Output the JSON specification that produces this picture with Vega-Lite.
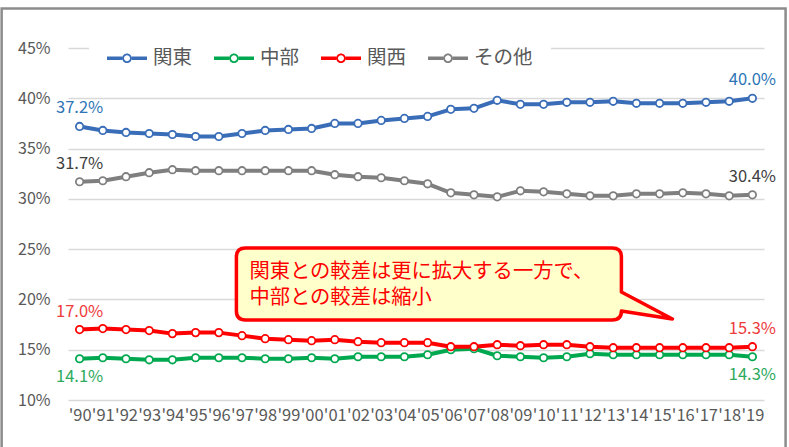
{
  "$schema": "https://vega.github.io/schema/vega-lite/v6.json",
  "width": 696,
  "height": 352,
  "autosize": "none",
  "padding": {"left": 68, "top": 48, "right": 25, "bottom": 47},
  "background": "white",
  "config": {
    "font": "Noto Sans CJK JP",
    "view": {"stroke": null},
    "axisX": {"labelOverlap": false, "labelFlush": false, "labelBound": false},
    "legend": {
      "orient": "none",
      "legendX": 21,
      "legendY": -28,
      "direction": "horizontal",
      "padding": 18,
      "fillColor": "white",
      "labelFontSize": 19.5,
      "labelColor": "#595959",
      "labelFont": "Noto Sans CJK JP",
      "symbolType": "M-1,-0.09H-0.24V0.09H-1Z M0.24,-0.09H1V0.09H0.24Z M0.24,0A0.24,0.24 0 1,1 -0.24,0A0.24,0.24 0 1,1 0.24,0Z M0.15,0A0.15,0.15 0 1,0 -0.15,0A0.15,0.15 0 1,0 0.15,0Z",
      "symbolSize": 1600,
      "symbolStrokeWidth": 0,
      "labelOffset": 6,
      "columnPadding": 21
    }
  },
  "datasets": {
    "shares": [
      {"year": 1990, "region": "関東", "share": 0.372},
      {"year": 1991, "region": "関東", "share": 0.368},
      {"year": 1992, "region": "関東", "share": 0.366},
      {"year": 1993, "region": "関東", "share": 0.365},
      {"year": 1994, "region": "関東", "share": 0.364},
      {"year": 1995, "region": "関東", "share": 0.362},
      {"year": 1996, "region": "関東", "share": 0.362},
      {"year": 1997, "region": "関東", "share": 0.365},
      {"year": 1998, "region": "関東", "share": 0.368},
      {"year": 1999, "region": "関東", "share": 0.369},
      {"year": 2000, "region": "関東", "share": 0.370},
      {"year": 2001, "region": "関東", "share": 0.375},
      {"year": 2002, "region": "関東", "share": 0.375},
      {"year": 2003, "region": "関東", "share": 0.378},
      {"year": 2004, "region": "関東", "share": 0.380},
      {"year": 2005, "region": "関東", "share": 0.382},
      {"year": 2006, "region": "関東", "share": 0.389},
      {"year": 2007, "region": "関東", "share": 0.390},
      {"year": 2008, "region": "関東", "share": 0.398},
      {"year": 2009, "region": "関東", "share": 0.394},
      {"year": 2010, "region": "関東", "share": 0.394},
      {"year": 2011, "region": "関東", "share": 0.396},
      {"year": 2012, "region": "関東", "share": 0.396},
      {"year": 2013, "region": "関東", "share": 0.397},
      {"year": 2014, "region": "関東", "share": 0.395},
      {"year": 2015, "region": "関東", "share": 0.395},
      {"year": 2016, "region": "関東", "share": 0.395},
      {"year": 2017, "region": "関東", "share": 0.396},
      {"year": 2018, "region": "関東", "share": 0.397},
      {"year": 2019, "region": "関東", "share": 0.400},
      {"year": 1990, "region": "中部", "share": 0.141},
      {"year": 1991, "region": "中部", "share": 0.142},
      {"year": 1992, "region": "中部", "share": 0.141},
      {"year": 1993, "region": "中部", "share": 0.140},
      {"year": 1994, "region": "中部", "share": 0.140},
      {"year": 1995, "region": "中部", "share": 0.142},
      {"year": 1996, "region": "中部", "share": 0.142},
      {"year": 1997, "region": "中部", "share": 0.142},
      {"year": 1998, "region": "中部", "share": 0.141},
      {"year": 1999, "region": "中部", "share": 0.141},
      {"year": 2000, "region": "中部", "share": 0.142},
      {"year": 2001, "region": "中部", "share": 0.141},
      {"year": 2002, "region": "中部", "share": 0.143},
      {"year": 2003, "region": "中部", "share": 0.143},
      {"year": 2004, "region": "中部", "share": 0.143},
      {"year": 2005, "region": "中部", "share": 0.145},
      {"year": 2006, "region": "中部", "share": 0.150},
      {"year": 2007, "region": "中部", "share": 0.151},
      {"year": 2008, "region": "中部", "share": 0.144},
      {"year": 2009, "region": "中部", "share": 0.143},
      {"year": 2010, "region": "中部", "share": 0.142},
      {"year": 2011, "region": "中部", "share": 0.143},
      {"year": 2012, "region": "中部", "share": 0.146},
      {"year": 2013, "region": "中部", "share": 0.145},
      {"year": 2014, "region": "中部", "share": 0.145},
      {"year": 2015, "region": "中部", "share": 0.145},
      {"year": 2016, "region": "中部", "share": 0.145},
      {"year": 2017, "region": "中部", "share": 0.145},
      {"year": 2018, "region": "中部", "share": 0.145},
      {"year": 2019, "region": "中部", "share": 0.143},
      {"year": 1990, "region": "関西", "share": 0.170},
      {"year": 1991, "region": "関西", "share": 0.171},
      {"year": 1992, "region": "関西", "share": 0.170},
      {"year": 1993, "region": "関西", "share": 0.169},
      {"year": 1994, "region": "関西", "share": 0.166},
      {"year": 1995, "region": "関西", "share": 0.167},
      {"year": 1996, "region": "関西", "share": 0.167},
      {"year": 1997, "region": "関西", "share": 0.164},
      {"year": 1998, "region": "関西", "share": 0.161},
      {"year": 1999, "region": "関西", "share": 0.160},
      {"year": 2000, "region": "関西", "share": 0.159},
      {"year": 2001, "region": "関西", "share": 0.160},
      {"year": 2002, "region": "関西", "share": 0.158},
      {"year": 2003, "region": "関西", "share": 0.157},
      {"year": 2004, "region": "関西", "share": 0.157},
      {"year": 2005, "region": "関西", "share": 0.157},
      {"year": 2006, "region": "関西", "share": 0.153},
      {"year": 2007, "region": "関西", "share": 0.153},
      {"year": 2008, "region": "関西", "share": 0.155},
      {"year": 2009, "region": "関西", "share": 0.154},
      {"year": 2010, "region": "関西", "share": 0.155},
      {"year": 2011, "region": "関西", "share": 0.155},
      {"year": 2012, "region": "関西", "share": 0.153},
      {"year": 2013, "region": "関西", "share": 0.152},
      {"year": 2014, "region": "関西", "share": 0.152},
      {"year": 2015, "region": "関西", "share": 0.152},
      {"year": 2016, "region": "関西", "share": 0.152},
      {"year": 2017, "region": "関西", "share": 0.152},
      {"year": 2018, "region": "関西", "share": 0.152},
      {"year": 2019, "region": "関西", "share": 0.153},
      {"year": 1990, "region": "その他", "share": 0.317},
      {"year": 1991, "region": "その他", "share": 0.318},
      {"year": 1992, "region": "その他", "share": 0.322},
      {"year": 1993, "region": "その他", "share": 0.326},
      {"year": 1994, "region": "その他", "share": 0.329},
      {"year": 1995, "region": "その他", "share": 0.328},
      {"year": 1996, "region": "その他", "share": 0.328},
      {"year": 1997, "region": "その他", "share": 0.328},
      {"year": 1998, "region": "その他", "share": 0.328},
      {"year": 1999, "region": "その他", "share": 0.328},
      {"year": 2000, "region": "その他", "share": 0.328},
      {"year": 2001, "region": "その他", "share": 0.324},
      {"year": 2002, "region": "その他", "share": 0.322},
      {"year": 2003, "region": "その他", "share": 0.321},
      {"year": 2004, "region": "その他", "share": 0.318},
      {"year": 2005, "region": "その他", "share": 0.315},
      {"year": 2006, "region": "その他", "share": 0.306},
      {"year": 2007, "region": "その他", "share": 0.304},
      {"year": 2008, "region": "その他", "share": 0.302},
      {"year": 2009, "region": "その他", "share": 0.308},
      {"year": 2010, "region": "その他", "share": 0.307},
      {"year": 2011, "region": "その他", "share": 0.305},
      {"year": 2012, "region": "その他", "share": 0.303},
      {"year": 2013, "region": "その他", "share": 0.303},
      {"year": 2014, "region": "その他", "share": 0.305},
      {"year": 2015, "region": "その他", "share": 0.305},
      {"year": 2016, "region": "その他", "share": 0.306},
      {"year": 2017, "region": "その他", "share": 0.305},
      {"year": 2018, "region": "その他", "share": 0.303},
      {"year": 2019, "region": "その他", "share": 0.304}
    ],
    "note": [
      {"note": "関東との較差は更に拡大する一方で、\n中部との較差は縮小"}
    ]
  },
  "layer": [
    {
      "data": {"name": "shares"},
      "mark": {"type": "line", "strokeWidth": 4, "strokeJoin": "round"},
      "encoding": {
        "x": {
          "field": "year", "type": "quantitative",
          "scale": {"domain": [1989.5, 2019.5], "nice": false, "zero": false},
          "axis": {
            "values": [1990,1991,1992,1993,1994,1995,1996,1997,1998,1999,2000,2001,2002,2003,2004,2005,2006,2007,2008,2009,2010,2011,2012,2013,2014,2015,2016,2017,2018,2019],
            "tickCount": 30,
            "format": "d",
            "labelExpr": "\"'\" + slice(datum.label, 2)",
            "title": null, "grid": false, "ticks": false, "domain": false,
            "labelFlush": false, "labelOverlap": false, "labelBound": false,
            "labelFontSize": 16.5, "labelColor": "#595959", "labelPadding": 7,
            "labelFont": "Noto Sans CJK JP"
          }
        },
        "y": {
          "field": "share", "type": "quantitative",
          "scale": {"domain": [0.10, 0.45], "nice": false, "zero": false},
          "axis": {
            "values": [0.10, 0.15, 0.20, 0.25, 0.30, 0.35, 0.40, 0.45],
            "format": ".0%",
            "title": null, "ticks": false, "domain": false,
            "grid": true, "gridColor": "#D9D9D9", "gridWidth": 1.3,
            "labelFontSize": 16, "labelColor": "#595959", "labelPadding": 18,
            "labelFont": "Noto Sans CJK JP"
          }
        },
        "color": {
          "field": "region", "type": "nominal",
          "scale": {"domain": ["関東", "中部", "関西", "その他"], "range": ["#3A6DB8", "#00A84F", "#FF0000", "#7F7F7F"]},
          "legend": {
            "title": null,
            "encode": {
              "symbols": {
                "update": {
                  "fill": {"scale": "color", "field": "value"},
                  "stroke": {"value": "transparent"},
                  "opacity": {"value": 1}
                }
              }
            }
          }
        }
      }
    },
    {
      "data": {"name": "shares"},
      "mark": {"type": "point", "filled": false, "fill": "white", "fillOpacity": 1, "opacity": 1, "size": 55, "strokeWidth": 1.8},
      "encoding": {
        "x": {"field": "year", "type": "quantitative", "scale": {"domain": [1989.5, 2019.5], "nice": false, "zero": false}},
        "y": {"field": "share", "type": "quantitative", "scale": {"domain": [0.10, 0.45], "nice": false, "zero": false}},
        "color": {"field": "region", "type": "nominal"}
      }
    },
    {
      "data": {"name": "shares"},
      "transform": [{"filter": "(datum.year == 1990 || datum.year == 2019) && datum.region != '中部'"}],
      "mark": {"type": "text", "dy": -18, "fontSize": 16.5, "align": "center", "baseline": "middle"},
      "encoding": {
        "x": {"field": "year", "type": "quantitative", "scale": {"domain": [1989.5, 2019.5], "nice": false, "zero": false}},
        "y": {"field": "share", "type": "quantitative", "scale": {"domain": [0.10, 0.45], "nice": false, "zero": false}},
        "text": {"field": "share", "type": "quantitative", "format": ".1%"},
        "fill": {
          "condition": [
            {"test": "datum.region == '関東'", "value": "#2E75B6"},
            {"test": "datum.region == '関西'", "value": "#EE3B3B"}
          ],
          "value": "#404040"
        }
      }
    },
    {
      "data": {"name": "shares"},
      "transform": [{"filter": "(datum.year == 1990 || datum.year == 2019) && datum.region == '中部'"}],
      "mark": {"type": "text", "dy": 18, "fontSize": 16.5, "align": "center", "baseline": "middle", "fill": "#2EAA5C"},
      "encoding": {
        "x": {"field": "year", "type": "quantitative", "scale": {"domain": [1989.5, 2019.5], "nice": false, "zero": false}},
        "y": {"field": "share", "type": "quantitative", "scale": {"domain": [0.10, 0.45], "nice": false, "zero": false}},
        "text": {"field": "share", "type": "quantitative", "format": ".1%"}
      }
    },
    {
      "data": {"name": "note"},
      "mark": {"type": "rect", "fill": "transparent", "stroke": "#8C8C8C", "strokeWidth": 2.5, "clip": false},
      "encoding": {
        "x": {"datum": 1986.64, "type": "quantitative"},
        "x2": {"datum": 2020.43},
        "y": {"datum": 0.4893, "type": "quantitative"},
        "y2": {"datum": 0.0503}
      }
    },
    {
      "data": {"name": "note"},
      "mark": {
        "type": "point",
        "shape": "M-0.9175,-0.18L0.9175,-0.18Q0.9625,-0.18 0.9625,-0.135L0.9625,0.04L1.2175,0.175L0.9625,0.135Q0.9625,0.18 0.9175,0.18L-0.9175,0.18Q-0.9625,0.18 -0.9625,0.135L-0.9625,-0.135Q-0.9625,-0.18 -0.9175,-0.18Z",
        "size": 160000,
        "filled": true,
        "fill": "#FFFFCC",
        "stroke": "#FF0000",
        "strokeWidth": 3.5,
        "strokeJoin": "round",
        "opacity": 1,
        "fillOpacity": 1,
        "strokeOpacity": 1
      },
      "encoding": {
        "x": {"datum": 2005.056, "type": "quantitative"},
        "y": {"datum": 0.21534, "type": "quantitative"}
      }
    },
    {
      "data": {"name": "note"},
      "mark": {"type": "text", "align": "left", "baseline": "middle", "fontSize": 20.3, "lineHeight": 26, "fill": "#FF0000", "lineBreak": "\n"},
      "encoding": {
        "x": {"datum": 1997.32, "type": "quantitative"},
        "y": {"datum": 0.22728, "type": "quantitative"},
        "text": {"field": "note", "type": "nominal"}
      }
    }
  ]
}
